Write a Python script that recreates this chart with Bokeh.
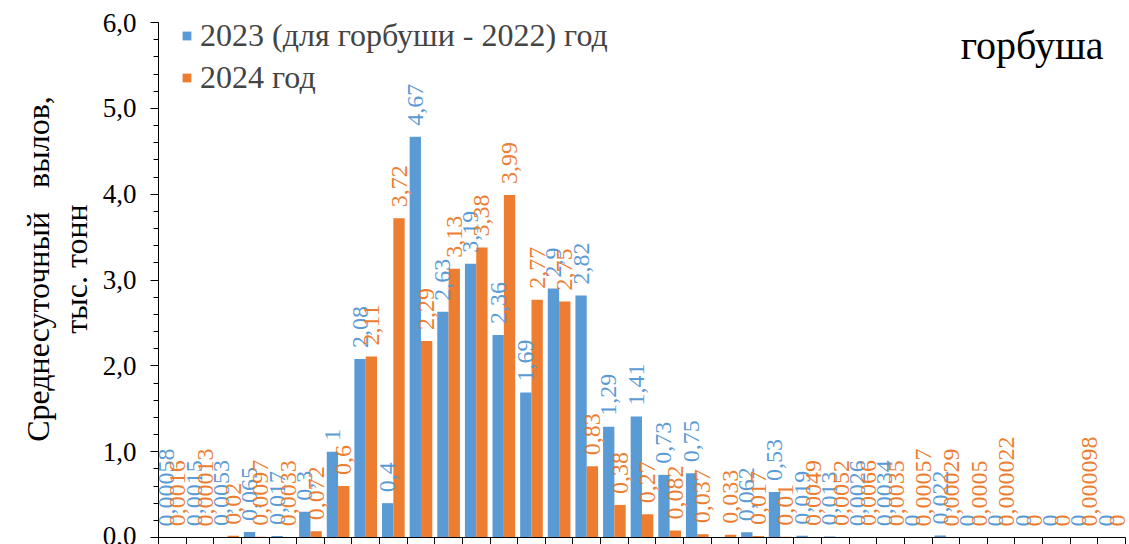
import numpy as np
from math import pi
from bokeh.plotting import figure
from bokeh.models import (ColumnDataSource, Range1d, FixedTicker, CustomJSTickFormatter,
                          Label, Legend, LegendItem)
from bokeh.core.properties import value
from bokeh.embed import file_html
from bokeh.resources import INLINE

# ---- data ----
periods = ["1", "2", "3", "4", "5", "6", "7", "8", "9", "10", "11", "12", "13", "14", "15",
           "16", "17", "18", "19", "20", "21", "22", "23", "24", "25", "26", "27", "28", "29",
           "30", "31", "32", "33", "34", "35"]
catch_2023 = [0.00058, 0.0015, 0.0053, 0.065, 0.017, 0.3, 1.0, 2.08, 0.4, 4.67, 2.63, 3.19,
              2.36, 1.69, 2.9, 2.82, 1.29, 1.41, 0.73, 0.75, -0.01, 0.062, 0.53, 0.019,
              0.013, 0.0026, 0.0034, 0.0, 0.022, 0.0, 0.0, 0.0, 0.0, 0.0, 0.0]
catch_2024 = [0.0016, 0.00013, 0.02, 0.0097, 0.0033, 0.072, 0.6, 2.11, 3.72, 2.29, 3.13,
              3.38, 3.99, 2.77, 2.75, 0.83, 0.38, 0.27, 0.082, 0.037, 0.033, 0.017, 0.01,
              0.0049, 0.0052, 0.0066, 0.0035, 0.00057, 0.00029, 0.0005, 0.000022, 0.0, 0.0,
              0.000098, 0.0]
y_ticks = [0, 1, 2, 3, 4, 5, 6]
series_names = ["2023 (для горбуши - 2022) год", "2024 год"]
title_text = "горбуша"
y_title = "Среднесуточный\u00a0\u00a0 вылов,\nтыс. тонн"

BLUE = "#5B9BD5"
ORANGE = "#ED7D31"
FONT = "Liberation Serif"

# layout: frame spans the canvas top down to y=537; value 6 sits 22px below the top
H, FRAME_BOTTOM, AXIS_TOP_PX = 544, 537, 22
y_max = y_ticks[-1]
y_end = y_max * FRAME_BOTTOM / (FRAME_BOTTOM - AXIS_TOP_PX)


def fmt(v):
    return np.format_float_positional(v, trim="-").replace(".", ",")


n = len(periods)
idx = np.arange(1, n + 1)
bars = ColumnDataSource(dict(x23=idx - 0.205, x24=idx + 0.205, v23=catch_2023, v24=catch_2024))


def label_source(offset, vals):
    keep = [i for i, v in enumerate(vals) if v >= 0]
    return ColumnDataSource(dict(x=[idx[i] + offset for i in keep],
                                 y=[vals[i] for i in keep],
                                 t=[fmt(vals[i]) for i in keep]))


p = figure(width=1129, height=H, output_backend="svg", toolbar_location=None,
           x_range=Range1d(0.5, n + 0.5), y_range=Range1d(0, y_end),
           min_border_left=158, min_border_right=4, min_border_top=0,
           min_border_bottom=H - FRAME_BOTTOM)
p.outline_line_color = None
p.xgrid.visible = False
p.ygrid.visible = False
p.background_fill_color = "white"
p.border_fill_color = "white"

r23 = p.vbar(x="x23", top="v23", width=0.41, source=bars, fill_color=BLUE, line_color=None)
r24 = p.vbar(x="x24", top="v24", width=0.41, source=bars, fill_color=ORANGE, line_color=None)

for off, vals, col in ((-0.205, catch_2023, BLUE), (0.205, catch_2024, ORANGE)):
    p.text(x="x", y="y", text="t", source=label_source(off, vals), angle=pi / 2,
           text_align="left", text_baseline="middle", y_offset=-11, text_color=col,
           text_font=value(FONT), text_font_size="24px")

# axes
p.xaxis.ticker = FixedTicker(ticks=list(np.arange(0.5, n + 1, 1.0)))
p.xaxis.formatter = CustomJSTickFormatter(code="return '';")
p.xaxis.major_label_text_font_size = "1px"
p.xaxis.major_label_standoff = 0
p.xaxis.major_tick_out = 7
p.xaxis.major_tick_in = 0
p.xaxis.minor_tick_out = 0
p.xaxis.axis_line_color = "black"
p.xaxis.major_tick_line_color = "black"

p.yaxis.bounds = (0, y_max)
p.yaxis.ticker = FixedTicker(ticks=y_ticks,
                             minor_ticks=list(np.round(np.arange(0, y_max + 0.01, 0.2), 1)))
p.yaxis.formatter = CustomJSTickFormatter(code="return tick.toFixed(1).replace('.', ',');")
p.yaxis.major_tick_out = 8
p.yaxis.major_tick_in = 0
p.yaxis.minor_tick_out = 5
p.yaxis.minor_tick_in = 0
p.yaxis.major_label_standoff = 14
p.yaxis.major_label_text_font = FONT
p.yaxis.major_label_text_font_size = "27px"
p.yaxis.major_label_text_color = "black"
p.yaxis.axis_line_color = "black"
p.yaxis.major_tick_line_color = "black"
p.yaxis.minor_tick_line_color = "black"
p.yaxis.axis_label = y_title
p.yaxis.axis_label_text_font = FONT
p.yaxis.axis_label_text_font_style = "normal"
p.yaxis.axis_label_text_font_size = "32px"
p.yaxis.axis_label_text_color = "black"
p.yaxis.axis_label_text_line_height = 1.05
p.yaxis.axis_label_standoff = 6

# species title
p.add_layout(Label(x=945, y=492, x_units="screen", y_units="screen", text=title_text,
                   text_align="right", text_baseline="middle",
                   text_font=FONT, text_font_size="40px", text_color="black"))

legend = Legend(items=[LegendItem(label=series_names[0], renderers=[r23]),
                       LegendItem(label=series_names[1], renderers=[r24])],
                location=(23, 441), orientation="vertical",
                glyph_width=11, glyph_height=11, label_standoff=8, spacing=5,
                padding=0, margin=0, border_line_color=None, background_fill_alpha=0,
                label_text_font=FONT, label_text_font_size="32px", label_height=36)
p.add_layout(legend)

open("out.html", "w").write(file_html(p, INLINE))
